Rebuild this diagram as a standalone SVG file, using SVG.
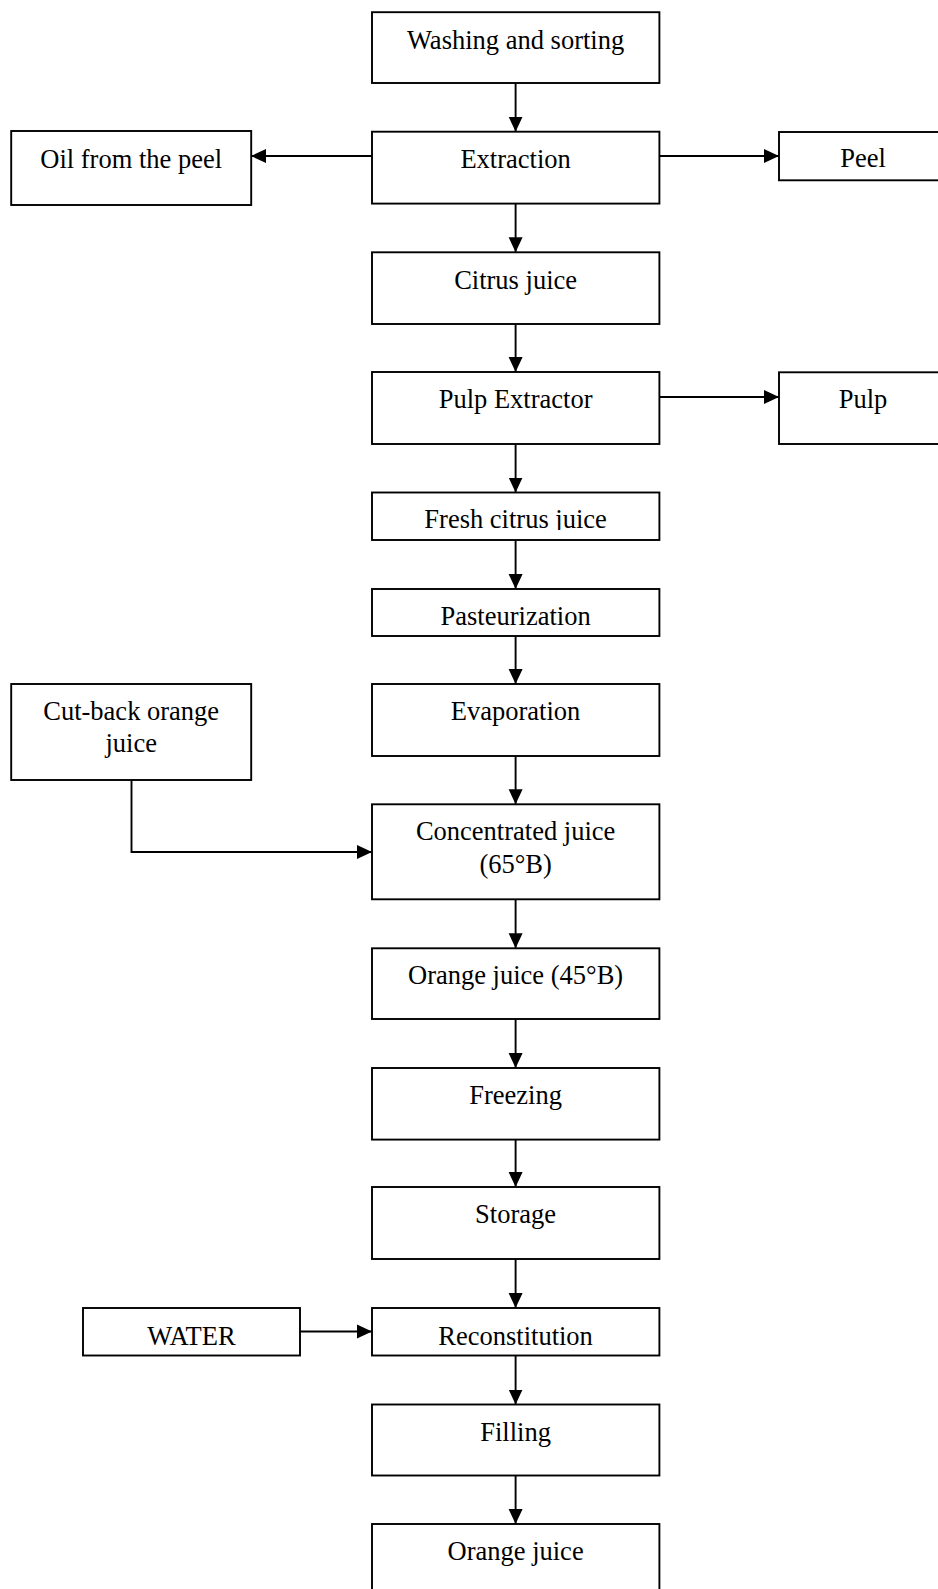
<svg xmlns="http://www.w3.org/2000/svg" width="938" height="1589" viewBox="0 0 938 1589">
<style>
.box{fill:#fff;stroke:#000;stroke-width:1.9}
.t{font-family:"Liberation Serif","Times New Roman",serif;font-size:26.5px;fill:#000;text-anchor:middle}
.c{fill:none;stroke:#000;stroke-width:1.9}
</style>
<defs>
<marker id="ah" markerUnits="userSpaceOnUse" markerWidth="16" markerHeight="15" refX="15" refY="7.5" orient="auto">
<path d="M0,0.5 L15,7.5 L0,14.5 z" fill="#000"/>
</marker>
<clipPath id="clipFresh"><rect x="372" y="492" width="287" height="38"/></clipPath>
</defs>
<rect width="938" height="1589" fill="#fff"/>
<g id="connectors">
<line class="c" x1="515.6" y1="83" x2="515.6" y2="131.7" marker-end="url(#ah)"/>
<line class="c" x1="515.6" y1="203.6" x2="515.6" y2="252.3" marker-end="url(#ah)"/>
<line class="c" x1="515.6" y1="324" x2="515.6" y2="372" marker-end="url(#ah)"/>
<line class="c" x1="515.6" y1="444" x2="515.6" y2="492.5" marker-end="url(#ah)"/>
<line class="c" x1="515.6" y1="540" x2="515.6" y2="589" marker-end="url(#ah)"/>
<line class="c" x1="515.6" y1="636" x2="515.6" y2="684" marker-end="url(#ah)"/>
<line class="c" x1="515.6" y1="756" x2="515.6" y2="804.3" marker-end="url(#ah)"/>
<line class="c" x1="515.6" y1="899.3" x2="515.6" y2="948.3" marker-end="url(#ah)"/>
<line class="c" x1="515.6" y1="1019" x2="515.6" y2="1068" marker-end="url(#ah)"/>
<line class="c" x1="515.6" y1="1139.6" x2="515.6" y2="1187" marker-end="url(#ah)"/>
<line class="c" x1="515.6" y1="1259" x2="515.6" y2="1308" marker-end="url(#ah)"/>
<line class="c" x1="515.6" y1="1355.5" x2="515.6" y2="1404.5" marker-end="url(#ah)"/>
<line class="c" x1="515.6" y1="1475.5" x2="515.6" y2="1524" marker-end="url(#ah)"/>
<line class="c" x1="372" y1="156" x2="251" y2="156" marker-end="url(#ah)"/>
<line class="c" x1="659.4" y1="156" x2="779" y2="156" marker-end="url(#ah)"/>
<line class="c" x1="659.4" y1="397" x2="779" y2="397" marker-end="url(#ah)"/>
<path class="c" d="M131.5,780 V852 H372" marker-end="url(#ah)"/>
<line class="c" x1="300" y1="1331.5" x2="372" y2="1331.5" marker-end="url(#ah)"/>
</g>
<g id="washing"><rect class="box" x="372" y="12.2" width="287.4" height="70.8"/><text class="t" x="515.6" y="48.5">Washing and sorting</text></g>
<g id="extraction"><rect class="box" x="372" y="131.7" width="287.4" height="71.9"/><text class="t" x="515.6" y="168">Extraction</text></g>
<g id="oil"><rect class="box" x="11.2" y="131" width="240" height="74"/><text class="t" x="131.2" y="168">Oil from the peel</text></g>
<g id="peel"><rect class="box" x="779" y="132" width="168" height="48.3"/><text class="t" x="863" y="167">Peel</text></g>
<g id="citrus"><rect class="box" x="372" y="252.3" width="287.4" height="71.7"/><text class="t" x="515.6" y="288.5">Citrus juice</text></g>
<g id="pulpextractor"><rect class="box" x="372" y="372" width="287.4" height="72"/><text class="t" x="515.6" y="408">Pulp Extractor</text></g>
<g id="pulp"><rect class="box" x="779" y="372.3" width="168" height="71.7"/><text class="t" x="863" y="408">Pulp</text></g>
<g id="fresh"><rect class="box" x="372" y="492.5" width="287.4" height="47.5"/><text class="t" x="515.6" y="528" clip-path="url(#clipFresh)">Fresh citrus juice</text></g>
<g id="pasteurization"><rect class="box" x="372" y="589" width="287.4" height="47"/><text class="t" x="515.6" y="624.5">Pasteurization</text></g>
<g id="evaporation"><rect class="box" x="372" y="684" width="287.4" height="72"/><text class="t" x="515.6" y="720">Evaporation</text></g>
<g id="cutback"><rect class="box" x="11.2" y="684" width="240" height="96"/><text class="t" x="131.2" y="720">Cut-back orange</text><text class="t" x="131.2" y="752">juice</text></g>
<g id="concentrated"><rect class="box" x="372" y="804.3" width="287.4" height="95"/><text class="t" x="515.6" y="840">Concentrated juice</text><text class="t" x="515.6" y="873">(65°B)</text></g>
<g id="orange45"><rect class="box" x="372" y="948.3" width="287.4" height="70.7"/><text class="t" x="515.6" y="984">Orange juice (45°B)</text></g>
<g id="freezing"><rect class="box" x="372" y="1068" width="287.4" height="71.6"/><text class="t" x="515.6" y="1104">Freezing</text></g>
<g id="storage"><rect class="box" x="372" y="1187" width="287.4" height="72"/><text class="t" x="515.6" y="1223">Storage</text></g>
<g id="reconstitution"><rect class="box" x="372" y="1308" width="287.4" height="47.5"/><text class="t" x="515.6" y="1344.5">Reconstitution</text></g>
<g id="water"><rect class="box" x="83" y="1308" width="217" height="47.5"/><text class="t" x="191.5" y="1344.5">WATER</text></g>
<g id="filling"><rect class="box" x="372" y="1404.5" width="287.4" height="71"/><text class="t" x="515.6" y="1440.5">Filling</text></g>
<g id="orangejuice"><rect class="box" x="372" y="1524" width="287.4" height="80"/><text class="t" x="515.6" y="1560">Orange juice</text></g>
</svg>
